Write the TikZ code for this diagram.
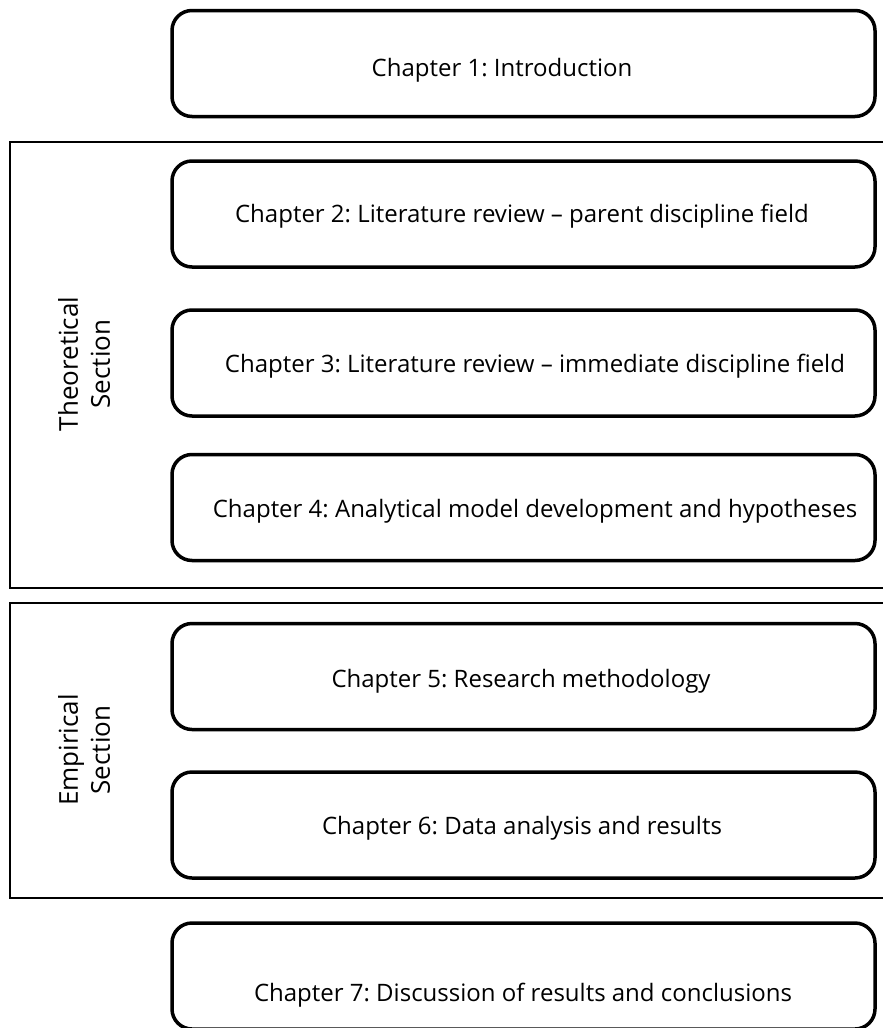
\documentclass[tikz,border=0pt]{standalone}
\usepackage{fontspec}
\setmainfont{Open Sans}
\begin{document}
\frenchspacing
\begin{tikzpicture}[x=1pt,y=-1pt,
  chapter/.style={draw=black, line width=3.5pt, rounded corners=20pt,
    minimum width=703pt, minimum height=106pt},
  chaptertext/.style={font=\fontsize{24}{28}\selectfont},
  sectionframe/.style={draw=black, line width=2pt},
  sectionlabel/.style={rotate=90, align=center, font=\fontsize{26}{32}\selectfont}]
\useasboundingbox (0,0) rectangle (883,1028);
\begin{scope}
\clip (0,0) rectangle (883,1028);
% section frames running off the right edge
\draw[sectionframe] (890,142) -- (10,142) -- (10,588) -- (890,588);
\draw[sectionframe] (890,603) -- (10,603) -- (10,898) -- (890,898);
% chapter boxes (the last one runs past the lower edge)
\node[chapter] (c1) at (523.5,63.5) {};
\node[chapter] (c2) at (523.5,214) {};
\node[chapter] (c3) at (523.5,363) {};
\node[chapter] (c4) at (523.5,507.5) {};
\node[chapter] (c5) at (523.5,676.5) {};
\node[chapter] (c6) at (523.5,825) {};
\node[chapter] (c7) at (523.5,976) {};
\end{scope}
\node[chaptertext] (t1) at (502,70) {Chapter 1: Introduction};
\node[chaptertext] (t2) at (522,216) {Chapter 2: Literature review -- parent discipline field};
\node[chaptertext] (t3) at (535,366) {Chapter 3: Literature review -- immediate discipline field};
\node[chaptertext] (t4) at (535,511) {Chapter 4: Analytical model development and hypotheses};
\node[chaptertext] (t5) at (521,681) {Chapter 5: Research methodology};
\node[chaptertext] (t6) at (522,828) {Chapter 6: Data analysis and results};
\node[chaptertext] (t7) at (523,995) {Chapter 7: Discussion of results and conclusions};
\node[sectionlabel] (ts) at (84,364) {Theoretical\\Section};
\node[sectionlabel] (es) at (84,750) {Empirical\\Section};
\end{tikzpicture}
\end{document}
